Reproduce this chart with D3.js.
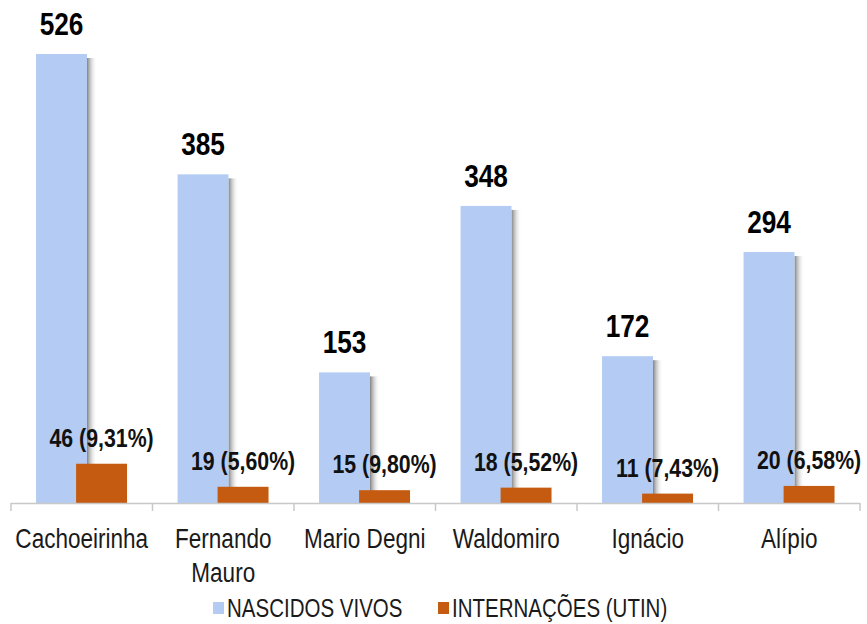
<!DOCTYPE html>
<html><head><meta charset="utf-8">
<script src="https://cdn.jsdelivr.net/npm/d3@7"></script>
<style>
html,body{margin:0;padding:0;background:#fff;}
svg{display:block;}
text{font-family:"Liberation Sans",Arial,sans-serif;}
</style></head>
<body>
<svg id="chart" width="867" height="624"></svg>
<script>
const categories = ["Cachoeirinha", "Fernando Mauro", "Mario Degni", "Waldomiro", "Ignácio", "Alípio"];
const nascidosVivos = [526, 385, 153, 348, 172, 294];
const internacoes = [46, 19, 15, 18, 11, 20];
const percentLabels = ["9,31%", "5,60%", "9,80%", "5,52%", "7,43%", "6,58%"];
const seriesNames = ["NASCIDOS VIVOS", "INTERNAÇÕES (UTIN)"];
const colors = ["#B4CCF4", "#C55A11"];

const NARROW = 0.82;
const svg = d3.select("#chart");
const baseY = 503;
const x = d3.scaleBand().domain(categories).range([11, 860]).paddingInner(0).paddingOuter(0);
const y = d3.scaleLinear().domain([0, 526]).range([baseY, 54]);
const bw = x.bandwidth();
const barW = bw * 0.36;
const blueOff = bw * 0.177;
const orangeOff = bw * 0.46;

const defs = svg.append("defs");
const g = defs.append("linearGradient").attr("id", "shadow").attr("x1", 0).attr("x2", 1).attr("y1", 0).attr("y2", 0);
g.append("stop").attr("offset", "0%").attr("stop-color", "#7a7a7a").attr("stop-opacity", 0.95);
g.append("stop").attr("offset", "100%").attr("stop-color", "#ffffff").attr("stop-opacity", 0);

const data = categories.map((c, i) => ({c, n: nascidosVivos[i], u: internacoes[i], p: percentLabels[i]}));

// shadows
svg.append("g").selectAll("rect").data(data).join("rect")
  .attr("x", d => x(d.c) + blueOff + barW)
  .attr("y", d => y(d.n) + 4)
  .attr("width", 10)
  .attr("height", d => baseY - y(d.n) - 4)
  .attr("fill", "url(#shadow)");

// blue bars
svg.append("g").selectAll("rect").data(data).join("rect")
  .attr("x", d => x(d.c) + blueOff)
  .attr("y", d => y(d.n))
  .attr("width", barW)
  .attr("height", d => baseY - y(d.n))
  .attr("fill", colors[0]);

// orange bars
svg.append("g").selectAll("rect").data(data).join("rect")
  .attr("x", d => x(d.c) + orangeOff)
  .attr("y", d => y(d.u))
  .attr("width", barW)
  .attr("height", d => baseY - y(d.u))
  .attr("fill", colors[1]);

// axis
const axis = svg.append("g");
axis.append("line").attr("x1", 11).attr("x2", 860).attr("y1", baseY + 0.5).attr("y2", baseY + 0.5)
  .attr("stroke", "#c8c8c8").attr("stroke-width", 1.5);
const bounds = categories.map(c => x(c)).concat([x(categories[categories.length - 1]) + bw]);
axis.selectAll("line.tick").data(bounds).join("line").attr("class", "tick")
  .attr("x1", d => d).attr("x2", d => d).attr("y1", baseY).attr("y2", baseY + 8)
  .attr("stroke", "#c8c8c8").attr("stroke-width", 1.5);

const place = (px, py) => `translate(${px},${py}) scale(${NARROW},1)`;

// value labels
svg.append("g").selectAll("text").data(data).join("text")
  .attr("transform", d => place(x(d.c) + blueOff + barW / 2, y(d.n) - 19))
  .attr("text-anchor", "middle")
  .attr("font-size", 32).attr("font-weight", "bold").attr("fill", "#000")
  .text(d => d.n);

svg.append("g").selectAll("text").data(data).join("text")
  .attr("transform", d => place(x(d.c) + orangeOff + barW / 2, y(d.u) - 17))
  .attr("text-anchor", "middle")
  .attr("font-size", 26).attr("font-weight", "bold").attr("fill", "#111")
  .text(d => `${d.u} (${d.p})`);

// category labels
const cl = svg.append("g").selectAll("text").data(data).join("text")
  .attr("transform", d => place(x(d.c) + bw / 2, 548))
  .attr("text-anchor", "middle")
  .attr("font-size", 27.5).attr("fill", "#1a1a1a");
cl.each(function(d) {
  const words = d.c === "Fernando Mauro" ? ["Fernando", "Mauro"] : [d.c];
  d3.select(this).selectAll("tspan").data(words).join("tspan")
    .attr("x", 0)
    .attr("dy", (w, i) => i === 0 ? 0 : 34)
    .text(w => w);
});

// legend
const legendX = [213, 438];
const leg = svg.append("g").selectAll("g").data(seriesNames).join("g")
  .attr("transform", (d, i) => `translate(${legendX[i]},0)`);
leg.append("rect").attr("x", 0).attr("y", 602).attr("width", 11).attr("height", 12)
  .attr("fill", (d, i) => colors[i]);
leg.append("text").attr("transform", place(14, 617)).attr("font-size", 25).attr("fill", "#1a1a1a")
  .text(d => d);
</script>
</body></html>
